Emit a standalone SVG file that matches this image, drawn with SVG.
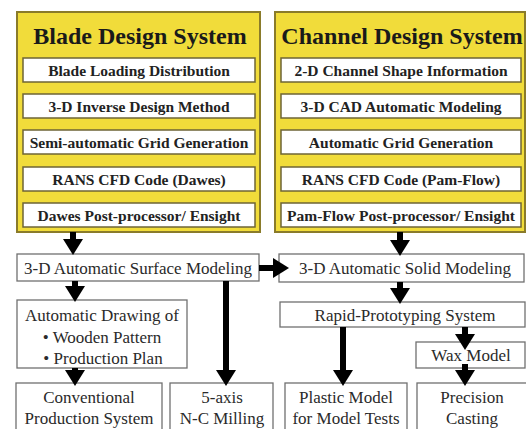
<svg xmlns="http://www.w3.org/2000/svg" width="526" height="429" viewBox="0 0 526 429">
<style>
.sys{fill:#f1dc3a;stroke:#8a7b2a;stroke-width:2}
.sub{fill:#fff;stroke:#6e6436;stroke-width:1.5}
.box{fill:#fff;stroke:#707070;stroke-width:1.3}
text{font-family:'Liberation Serif','Times New Roman',Tinos,Times,serif}
.title{font-weight:bold;font-size:24px;fill:#1a1a1a;text-anchor:middle}
.st{font-weight:bold;font-size:15.5px;fill:#222;text-anchor:middle}
.t{font-size:17px;fill:#2a2a2a;text-anchor:middle}
.arr{stroke:#000;stroke-width:6;fill:none;marker-end:url(#ah)}
</style>
<defs>
<marker id="ah" markerUnits="userSpaceOnUse" viewBox="0 0 16 20" markerWidth="16" markerHeight="20" refX="6" refY="10" orient="auto">
<path d="M0,0 L16,10 L0,20 z" fill="#000"/>
</marker>
</defs>
<rect width="526" height="429" fill="#fff"/>
<g id="blade">
<rect class="sys" x="17" y="12" width="243" height="220"/>
<text class="title" x="140" y="44">Blade Design System</text>
<rect class="sub" x="23" y="58" width="232" height="24"/>
<text class="st" x="139" y="75.5">Blade Loading Distribution</text>
<rect class="sub" x="23" y="94" width="232" height="24"/>
<text class="st" x="139" y="111.5">3-D Inverse Design Method</text>
<rect class="sub" x="23" y="130" width="232" height="24"/>
<text class="st" x="139" y="147.5">Semi-automatic Grid Generation</text>
<rect class="sub" x="23" y="167" width="232" height="24"/>
<text class="st" x="139" y="184.5">RANS CFD Code (Dawes)</text>
<rect class="sub" x="23" y="203" width="232" height="24"/>
<text class="st" x="139" y="220.5">Dawes Post-processor/ Ensight</text>
</g>
<g id="channel">
<rect class="sys" x="275" y="12" width="250" height="220"/>
<text class="title" x="402" y="44">Channel Design System</text>
<rect class="sub" x="281" y="58" width="240" height="24"/>
<text class="st" x="401" y="75.5">2-D Channel Shape Information</text>
<rect class="sub" x="281" y="94" width="240" height="24"/>
<text class="st" x="401" y="111.5">3-D CAD Automatic Modeling</text>
<rect class="sub" x="281" y="130" width="240" height="24"/>
<text class="st" x="401" y="147.5">Automatic Grid Generation</text>
<rect class="sub" x="281" y="167" width="240" height="24"/>
<text class="st" x="401" y="184.5">RANS CFD Code (Pam-Flow)</text>
<rect class="sub" x="281" y="203" width="240" height="24"/>
<text class="st" x="401" y="220.5">Pam-Flow Post-processor/ Ensight</text>
</g>
<g id="surface">
<rect class="box" x="17" y="254" width="242" height="27"/>
<text class="t" x="138" y="273.5">3-D Automatic Surface Modeling</text>
</g>
<g id="solid">
<rect class="box" x="279" y="254" width="245" height="28"/>
<text class="t" x="405" y="273.5">3-D Automatic Solid Modeling</text>
</g>
<g id="rapid">
<rect class="box" x="280" y="302" width="245" height="25"/>
<text class="t" x="405" y="320.5">Rapid-Prototyping System</text>
</g>
<g id="drawing">
<rect class="box" x="17" y="300" width="170" height="68"/>
<text class="t" x="102" y="321">Automatic Drawing of</text>
<text class="t" x="102" y="343">• Wooden Pattern</text>
<text class="t" x="103" y="364">• Production Plan</text>
</g>
<g id="wax">
<rect class="box" x="416" y="342" width="109" height="26"/>
<text class="t" x="471" y="361">Wax Model</text>
</g>
<g id="conventional">
<rect class="box" x="16" y="383" width="146" height="52"/>
<text class="t" x="89" y="403">Conventional</text>
<text class="t" x="89" y="424">Production System</text>
</g>
<g id="milling">
<rect class="box" x="170" y="383" width="103" height="52"/>
<text class="t" x="222" y="403">5-axis</text>
<text class="t" x="222" y="424">N-C Milling</text>
</g>
<g id="plastic">
<rect class="box" x="285" y="383" width="122" height="52"/>
<text class="t" x="346" y="403">Plastic Model</text>
<text class="t" x="346" y="424">for Model Tests</text>
</g>
<g id="precision">
<rect class="box" x="417" y="383" width="110" height="52"/>
<text class="t" x="472" y="403">Precision</text>
<text class="t" x="472" y="424">Casting</text>
</g>
<g id="connectors">
<line class="arr" x1="73" y1="232" x2="73" y2="245"/>
<line class="arr" x1="400" y1="232" x2="400" y2="246"/>
<line class="arr" x1="259" y1="268" x2="279" y2="268"/>
<line class="arr" x1="400" y1="282" x2="400" y2="294"/>
<line class="arr" x1="75" y1="281" x2="75" y2="292"/>
<line class="arr" x1="75" y1="368" x2="75" y2="376"/>
<line class="arr" x1="226" y1="281" x2="226" y2="376"/>
<line class="arr" x1="343" y1="327" x2="343" y2="376"/>
<line class="arr" x1="465" y1="327" x2="465" y2="340"/>
<line class="arr" x1="465" y1="364" x2="465" y2="376"/>
</g>
</svg>
